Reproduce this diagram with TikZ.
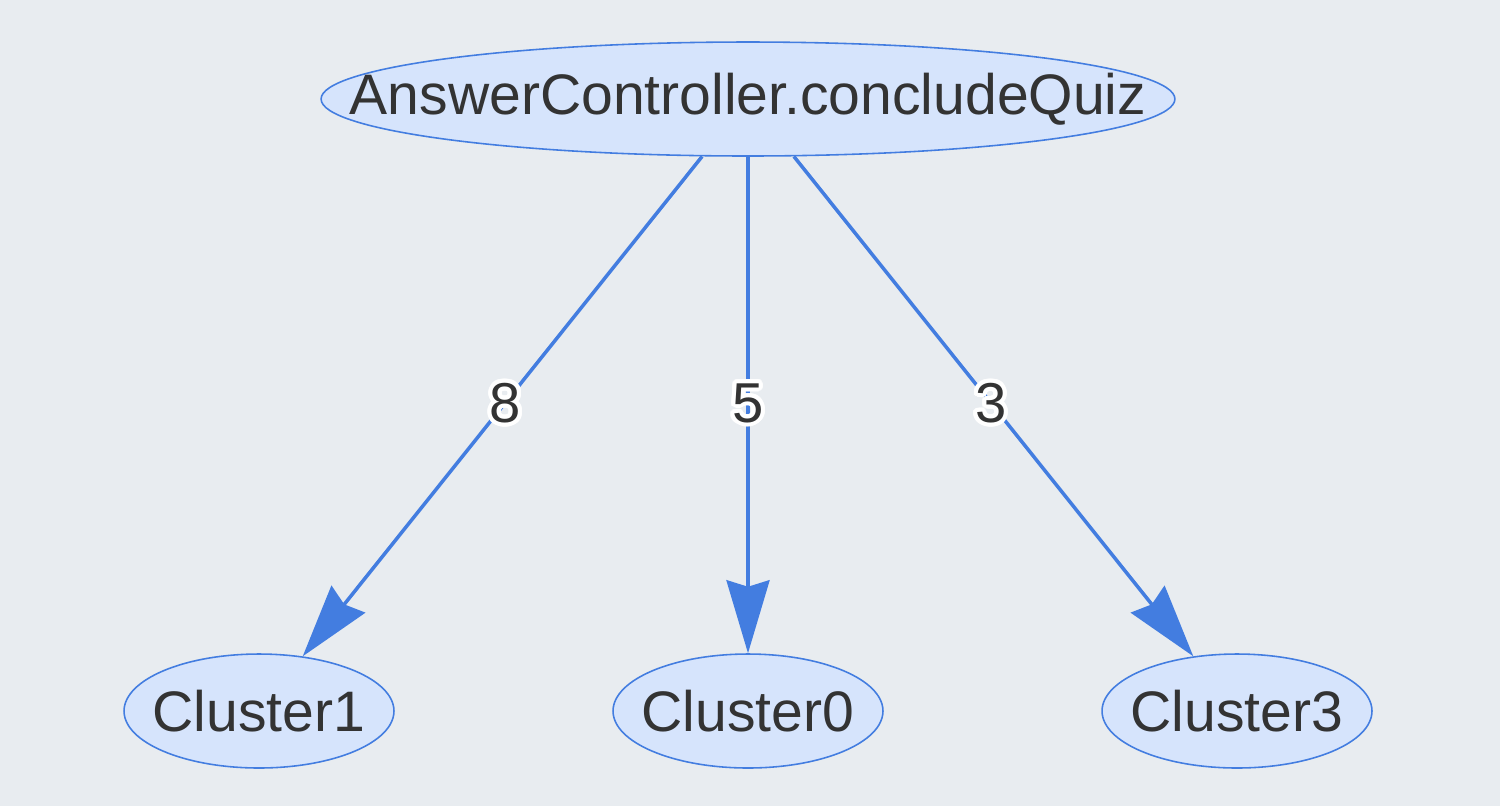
\documentclass[tikz,border=0pt]{standalone}
\usepackage{fontspec}
\setmainfont{Liberation Sans}
\usetikzlibrary{shapes.geometric,arrows.meta}
\definecolor{bg}{HTML}{E8ECF0}
\definecolor{nodefill}{HTML}{D6E4FC}
\definecolor{edgeblue}{HTML}{437DE0}
\definecolor{txt}{HTML}{333333}
\newcommand\edgelabel[2]{%
  \foreach \a in {0,15,...,345}{\node[lbltext,text=white] at ([shift={(\a:2.3pt)}]#1) {#2};}
  \node[lbltext] (#1t) at (#1) {#2};}
\begin{document}
\begin{tikzpicture}[x=0.02cm,y=-0.02cm,
  vert/.style={ellipse,draw=edgeblue,fill=nodefill,line width=0.9pt,inner sep=0pt,
    minimum height=2.28cm,text=txt,font=\fontsize{32.5}{39}\selectfont},
  edge/.style={draw=edgeblue,line width=2pt,-{Stealth[length=1.46cm,width=0.86cm,inset=0.13cm]}},
  lbltext/.style={inner sep=0pt,text=txt,font=\fontsize{32}{38}\selectfont}]
\fill[bg] (0,0) rectangle (1500,806);
\useasboundingbox (0,0) rectangle (1500,806);
\node[vert,minimum width=17.08cm] (top) at (748,99) {\makebox[0pt]{AnswerController.concludeQuiz}};
\node[vert,minimum width=5.4cm] (c1) at (259,711) {\makebox[0pt]{Cluster1}};
\node[vert,minimum width=5.4cm] (c0) at (748,711) {\makebox[0pt]{Cluster0}};
\node[vert,minimum width=5.4cm] (c3) at (1237,711) {\makebox[0pt]{Cluster3}};
\draw[edge] (top) -- coordinate[pos=0.493] (l1) (c1);
\draw[edge] (top) -- coordinate[pos=0.496] (l0) (c0);
\draw[edge] (top) -- coordinate[pos=0.493] (l3) (c3);
\edgelabel{l1}{8}
\edgelabel{l0}{5}
\edgelabel{l3}{3}
\end{tikzpicture}
\end{document}
